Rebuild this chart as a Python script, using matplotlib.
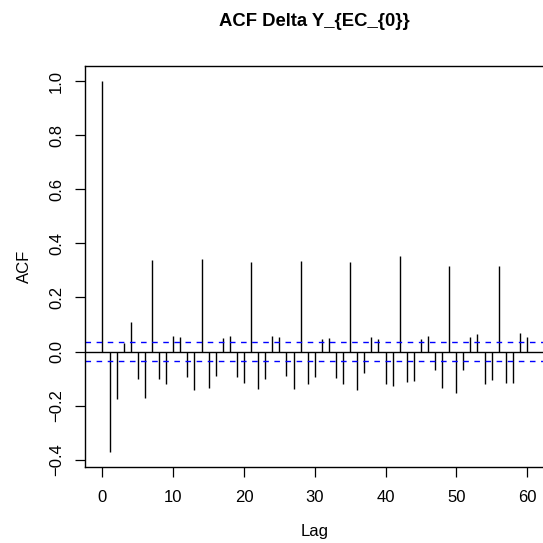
import numpy as np
import matplotlib
matplotlib.use("Agg")
import matplotlib.pyplot as plt

plt.rcParams["font.family"] = ["Liberation Sans", "DejaVu Sans"]

# sample ACF values, lags 0..60
lags = np.arange(0, 61)
acf_vals = [
    1.0, -0.371, -0.177, 0.032, 0.109, -0.101, -0.172, 0.338, -0.100, -0.119,
    0.059, 0.053, -0.093, -0.141, 0.341, -0.135, -0.089, 0.051, 0.058, -0.096,
    -0.115, 0.330, -0.137, -0.100, 0.058, 0.052, -0.090, -0.138, 0.335, -0.119,
    -0.094, 0.046, 0.051, -0.099, -0.119, 0.330, -0.141, -0.079, 0.054, 0.048,
    -0.119, -0.128, 0.354, -0.112, -0.110, 0.047, 0.056, -0.070, -0.136, 0.316,
    -0.152, -0.068, 0.053, 0.063, -0.120, -0.105, 0.317, -0.116, -0.117, 0.067,
    0.054,
]
ci = 0.036

fig = plt.figure(figsize=(5.43, 5.43), dpi=100)
ax = fig.add_axes([85.5 / 543, 1 - 466.7 / 543, (544 - 85.5) / 543, (466.7 - 66.3) / 543])

ax.vlines(lags, 0, acf_vals, color="black", lw=1.0)
ax.axhline(0, color="black", lw=1.0)
ax.axhline(ci, color="blue", lw=1.0, ls=(0, (4, 4)))
ax.axhline(-ci, color="blue", lw=1.0, ls=(0, (4, 4)))

ax.set_xlim(-2.4, 62.4)
ax.set_ylim(-0.426, 1.055)
ax.set_xticks([0, 10, 20, 30, 40, 50, 60])
ax.set_yticks([-0.4, -0.2, 0.0, 0.2, 0.4, 0.6, 0.8, 1.0])
ax.set_yticklabels(["\u22120.4", "\u22120.2", "0.0", "0.2", "0.4", "0.6", "0.8", "1.0"],
                   rotation=90, va="center")
ax.tick_params(axis="both", direction="out", length=7, width=0.9, labelsize=12)
ax.tick_params(axis="x", pad=9.5)
ax.tick_params(axis="y", pad=8.5)

for s in ax.spines.values():
    s.set_linewidth(1.0)

ax.set_xlabel("Lag", fontsize=12, labelpad=14)
ax.set_ylabel("ACF", fontsize=12, labelpad=12)
fig.text((85.5 + 544) / 2 / 543, 1 - 22 / 543, "ACF Delta Y_{EC_{0}}",
         ha="center", va="center", fontsize=13.3, fontweight="bold")

fig.savefig("out.png", dpi=100)
